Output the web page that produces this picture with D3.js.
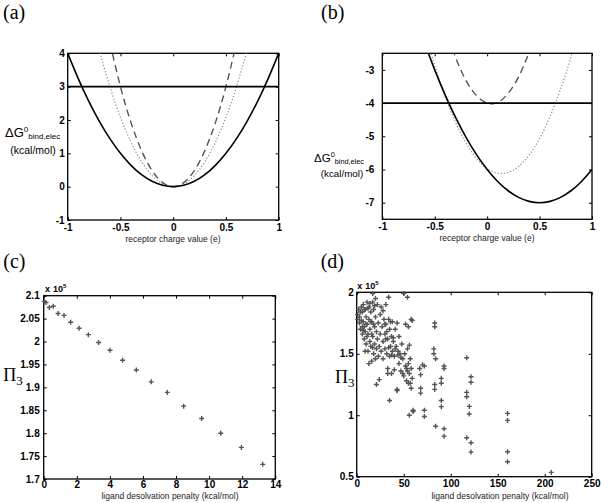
<!DOCTYPE html>
<html>
<head>
<meta charset="utf-8">
<script src="https://cdn.jsdelivr.net/npm/d3@7"></script>
<style>
  body { margin: 0; background: #fff; }
  svg text { font-family: 'Liberation Sans', Arial, sans-serif; }
  svg text.serif { font-family: 'Liberation Serif', 'DejaVu Serif', serif; }
</style>
</head>
<body>
<svg id="fig" width="601" height="503"></svg>
<script>
// ---- data ----
// (a) binding free energy vs receptor charge
const aSolidX = [-1, -0.9, -0.8, -0.7, -0.6, -0.5, -0.4, -0.3, -0.2, -0.1, 0, 0.1, 0.2, 0.3, 0.4, 0.5, 0.6, 0.7, 0.8, 0.9, 1];
const aSolidY = [4, 3.24, 2.56, 1.96, 1.44, 1, 0.64, 0.36, 0.16, 0.04, 0, 0.04, 0.16, 0.36, 0.64, 1, 1.44, 1.96, 2.56, 3.24, 4];
const aDottedX = [-0.72, -0.6, -0.5, -0.4, -0.3, -0.2, -0.1, 0, 0.1, 0.2, 0.3, 0.4, 0.5, 0.6, 0.72];
const aDottedY = [4.3, 3, 2.08, 1.33, 0.75, 0.33, 0.08, 0, 0.08, 0.33, 0.75, 1.33, 2.08, 3, 4.3];
const aDashedX = [-0.6, -0.5, -0.4, -0.3, -0.2, -0.1, 0, 0.1, 0.2, 0.3, 0.4, 0.5, 0.6];
const aDashedY = [4.32, 3, 1.92, 1.08, 0.48, 0.12, 0, 0.12, 0.48, 1.08, 1.92, 3, 4.32];
const aLevel = 3;

// (b)
const bSolidX = [-0.6, -0.5, -0.4, -0.3, -0.2, -0.1, 0, 0.1, 0.2, 0.3, 0.4, 0.5, 0.6, 0.7, 0.8, 0.9, 1];
const bSolidY = [-2.16, -3, -3.76, -4.44, -5.04, -5.56, -6, -6.36, -6.64, -6.84, -6.96, -7, -6.96, -6.84, -6.64, -6.36, -6];
const bDottedX = [-0.6, -0.5, -0.4, -0.3, -0.2, -0.1, 0, 0.1, 0.2, 0.3, 0.4, 0.5, 0.6, 0.7, 0.8, 0.9];
const bDottedY = [-1.77, -2.87, -3.81, -4.59, -5.21, -5.67, -5.97, -6.11, -6.09, -5.91, -5.57, -5.07, -4.4, -3.58, -2.6, -1.46];
const bDashedX = [-0.4, -0.3, -0.2, -0.1, 0, 0.1, 0.2, 0.3, 0.4, 0.5];
const bDashedY = [-1.7, -2.63, -3.33, -3.78, -4, -3.98, -3.71, -3.21, -2.46, -1.48];
const bLevel = -4;

// (c) Pi_3 (x 10^5) vs ligand desolvation penalty
const cPenalty = [0.04, 0.14, 0.34, 0.58, 0.87, 1.23, 1.63, 2.14, 2.7, 3.32, 4.01, 4.77, 5.6, 6.5, 7.47, 8.46, 9.55, 10.7, 11.95, 13.24];
const cPi3 = [2.087, 2.085, 2.0745, 2.077, 2.061, 2.057, 2.042, 2.029, 2.015, 1.998, 1.981, 1.959, 1.938, 1.912, 1.889, 1.859, 1.832, 1.8, 1.769, 1.732];

// (d) [penalty, Pi_3 (x 10^5)]
const dPoints = [
  [1, 1.82], [1, 1.78], [2, 1.86], [3, 1.75], [3, 1.8], [4, 1.7], [4, 1.84], [5, 1.88], [5, 1.77],
  [6, 1.84], [6, 1.66], [6, 1.72], [7, 1.9], [7, 1.76], [7, 1.69], [8, 1.72], [8, 1.62], [8, 1.86],
  [9, 1.86], [9, 1.68], [9, 1.52], [10, 1.8], [10, 1.58], [10, 1.74], [11, 1.92], [11, 1.74], [11, 1.64],
  [12, 1.66], [12, 1.52], [12, 1.87], [13, 1.88], [13, 1.78], [13, 1.42], [14, 1.7], [14, 1.6], [14, 1.91],
  [15, 1.84], [15, 1.56], [15, 1.76], [16, 1.76], [16, 1.44], [16, 1.66], [17, 1.99], [17, 1.92], [17, 1.64],
  [17, 1.55], [18, 1.86], [18, 1.5], [18, 1.74], [19, 1.72], [19, 1.58], [19, 1.89], [20, 1.95], [20, 1.8],
  [20, 1.46], [21, 1.68], [21, 1.54], [21, 1.25], [22, 1.9], [22, 1.62], [23, 1.75], [23, 1.48], [24, 1.56],
  [24, 1.29], [25, 1.82], [25, 1.66], [26, 1.88], [26, 1.52], [27, 1.72], [28, 1.6], [28, 1.46], [28, 1.85],
  [29, 1.78], [30, 1.66], [30, 1.54], [30, 1.74], [31, 1.9], [31, 1.74], [31, 1.62], [32, 1.5], [32, 1.68],
  [33, 1.62], [33, 1.38], [33, 1.34], [34, 1.96], [34, 1.78], [34, 1.55], [35, 1.7], [35, 1.48], [35, 1.12],
  [36, 1.56], [36, 1.76], [37, 1.64], [37, 1.34], [37, 1.49], [38, 1.76], [38, 1.52], [39, 1.6], [39, 1.63],
  [40, 1.48], [40, 1.37], [41, 1.7], [41, 1.54], [42, 1.56], [43, 1.75], [43, 1.21], [43, 1.2], [44, 1.52],
  [44, 1.49], [45, 1.64], [45, 1.42], [46, 1.5], [47, 1.36], [47, 1.47], [48, 1.58], [49, 1.46], [49, 1.34],
  [50, 1.99], [50, 1.32], [51, 1.5], [52, 1.74], [52, 1.4], [53, 1.28], [53, 1.38], [54, 1.96], [54, 1.54],
  [54, 1.36], [55, 1.72], [55, 1.26], [55, 1.42], [56, 1.57], [56, 1.34], [56, 1.0], [57, 1.46], [57, 1.26],
  [58, 1.78], [58, 1.38], [58, 1.22], [59, 1.3], [59, 1.77], [60, 1.04], [60, 1.03],
  [67, 1.38], [68, 1.33], [68, 1.22], [68, 1.18], [70, 1.41], [72, 1.4], [72, 1.04], [72, 0.99],
  [83, 1.75], [83, 1.72], [82, 1.54], [82, 1.5], [84, 1.46], [83, 1.25], [83, 1.21], [84, 0.91],
  [90, 1.3], [90, 1.26], [90, 1.12], [90, 1.07], [93, 1.4], [93, 1.38], [93, 0.89], [93, 0.83],
  [117, 1.468], [121.6, 1.313], [121.6, 1.268], [117, 1.186], [117, 1.15], [119.8, 1.072], [119.8, 1.01],
  [117, 0.817], [121.6, 0.776], [121.6, 0.7],
  [160.5, 1.015], [160.5, 0.958], [160.5, 0.703], [160.5, 0.622], [207, 0.535]
];

const chargeTicks = [-1, -0.5, 0, 0.5, 1];
const aTicks = [-1, 0, 1, 2, 3, 4];
const bTicks = [-7, -6, -5, -4, -3];
const cXTicks = [0, 2, 4, 6, 8, 10, 12, 14];
const cYTicks = [1.7, 1.75, 1.8, 1.85, 1.9, 1.95, 2, 2.05, 2.1];
const dXTicks = [0, 50, 100, 150, 200, 250];
const dYTicks = [0.5, 1, 1.5, 2];

// ---- drawing ----
const svg = d3.select('#fig');
let clipCount = 0;
const fmt = (d) => String(+d.toFixed(2));

function makePanel(box, xDomain, yDomain, xTicks, yTicks, padX, padY) {
  const x = d3.scaleLinear().domain(xDomain).range([box.left, box.right]);
  const y = d3.scaleLinear().domain(yDomain).range([box.bottom, box.top]);
  const id = 'clip' + clipCount++;
  svg
    .append('clipPath')
    .attr('id', id)
    .append('rect')
    .attr('x', box.left)
    .attr('y', box.top)
    .attr('width', box.right - box.left)
    .attr('height', box.bottom - box.top);

  const styleAxis = (g) => {
    g.select('.domain').remove();
    g.attr('font-family', null).attr('font-size', null);
    g.selectAll('line').attr('stroke', '#000');
    g.selectAll('text')
      .attr('font-size', 10)
      .attr('font-weight', 'bold')
      .attr('fill', '#000');
  };

  svg.append('g')
    .attr('transform', `translate(0,${box.bottom})`)
    .call(d3.axisBottom(x).tickValues(xTicks).tickSize(-3).tickPadding(padX).tickFormat(fmt))
    .call(styleAxis);
  svg.append('g')
    .attr('transform', `translate(0,${box.top})`)
    .call(d3.axisTop(x).tickValues(xTicks).tickSize(-3).tickFormat(''))
    .call(styleAxis);
  svg.append('g')
    .attr('transform', `translate(${box.left},0)`)
    .call(d3.axisLeft(y).tickValues(yTicks).tickSize(-3).tickPadding(padY).tickFormat(fmt))
    .call(styleAxis);
  svg.append('g')
    .attr('transform', `translate(${box.right},0)`)
    .call(d3.axisRight(y).tickValues(yTicks).tickSize(-3).tickFormat(''))
    .call(styleAxis);

  svg
    .append('rect')
    .attr('x', box.left)
    .attr('y', box.top)
    .attr('width', box.right - box.left)
    .attr('height', box.bottom - box.top)
    .attr('fill', 'none')
    .attr('stroke', '#000')
    .attr('stroke-width', 1.3);

  return { x, y, clip: `url(#${id})`, box };
}

function drawCurve(p, xs, ys, color, width, dash) {
  const line = d3
    .line()
    .x((d) => p.x(d[0]))
    .y((d) => p.y(d[1]))
    .curve(d3.curveNatural);
  svg
    .append('path')
    .datum(d3.zip(xs, ys))
    .attr('clip-path', p.clip)
    .attr('fill', 'none')
    .attr('stroke', color)
    .attr('stroke-width', width)
    .attr('stroke-dasharray', dash)
    .attr('d', line);
}

function drawLevel(p, level) {
  svg
    .append('line')
    .attr('x1', p.box.left)
    .attr('x2', p.box.right)
    .attr('y1', p.y(level))
    .attr('y2', p.y(level))
    .attr('stroke', '#000')
    .attr('stroke-width', 1.6);
}

function drawCrosses(p, pts) {
  const r = 2.5;
  svg
    .append('g')
    .selectAll('path')
    .data(pts)
    .enter()
    .append('path')
    .attr('d', (d) => `M${p.x(d[0]) - r},${p.y(d[1])}h${2 * r}M${p.x(d[0])},${p.y(d[1]) - r}v${2 * r}`)
    .attr('stroke', '#555')
    .attr('stroke-width', 1.4);
}

function addText(x, y, txt, size, opts = {}) {
  return svg
    .append('text')
    .attr('class', opts.serif ? 'serif' : null)
    .attr('x', x)
    .attr('y', y)
    .attr('font-size', size)
    .attr('text-anchor', opts.anchor || 'start')
    .attr('font-weight', opts.weight || null)
    .attr('fill', opts.fill || '#000')
    .text(txt);
}

function deltaGLabel(x, y, big, small) {
  const t = svg.append('text').attr('x', x).attr('y', y).attr('fill', '#000');
  t.append('tspan').attr('font-size', big).text('ΔG');
  t.append('tspan').attr('font-size', small).attr('dy', -5).text('0');
  t.append('tspan').attr('font-size', small).attr('dy', 7).text('bind,elec');
}

function piLabel(x, y) {
  const t = svg
    .append('text')
    .attr('class', 'serif')
    .attr('x', x)
    .attr('y', y)
    .attr('fill', '#000');
  t.append('tspan').attr('font-size', 18).text('Π');
  t.append('tspan').attr('font-size', 13).attr('dy', 4).text('3');
}

function expLabel(x, y) {
  addText(x, y, 'x', 9, { weight: 'bold' });
  const t = addText(x + 8, y, '10', 9, { weight: 'bold' });
  t.append('tspan').attr('font-size', 6).attr('dy', -4).text('5');
}

// (a)
const pa = makePanel({ left: 67.7, right: 278.7, top: 53.3, bottom: 220 }, [-1, 1], [-1, 4], chargeTicks, aTicks, 4, 3);
drawCurve(pa, aDottedX, aDottedY, '#8a8a8a', 1.2, '1.2,2');
drawCurve(pa, aDashedX, aDashedY, '#555', 1.4, '7,4.5');
drawCurve(pa, aSolidX, aSolidY, '#000', 1.6, null);
drawLevel(pa, aLevel);
addText(3, 18.5, '(a)', 20, { serif: true });
deltaGLabel(5, 137, 13, 8);
addText(33, 154, '(kcal/mol)', 10.5, { anchor: 'middle' });
addText(173, 242, 'receptor charge value (e)', 8.5, { anchor: 'middle', fill: '#222' });

// (b)
const pb = makePanel({ left: 382.3, right: 592, top: 53.3, bottom: 219.3 }, [-1, 1], [-7.5, -2.5], chargeTicks, bTicks, 4, 8);
drawCurve(pb, bDottedX, bDottedY, '#8a8a8a', 1.2, '1.2,2');
drawCurve(pb, bDashedX, bDashedY, '#555', 1.4, '7,4.5');
drawCurve(pb, bSolidX, bSolidY, '#000', 1.6, null);
drawLevel(pb, bLevel);
addText(321, 18.5, '(b)', 20, { serif: true });
deltaGLabel(314, 162, 11.5, 7.3);
addText(342, 177, '(kcal/mol)', 9.8, { anchor: 'middle' });
addText(487, 241, 'receptor charge value (e)', 8.5, { anchor: 'middle', fill: '#222' });

// (c)
const pc = makePanel({ left: 43.7, right: 275.3, top: 295.7, bottom: 479 }, [0, 14], [1.7, 2.1], cXTicks, cYTicks, 2, 4);
drawCrosses(pc, d3.zip(cPenalty, cPi3));
addText(3.3, 268, '(c)', 20, { serif: true });
piLabel(3.3, 381);
expLabel(45, 292);
addText(170, 499, 'ligand desolvation penalty (kcal/mol)', 8.5, { anchor: 'middle', fill: '#222' });

// (d)
const pd = makePanel({ left: 356.7, right: 591.7, top: 292.3, bottom: 476.7 }, [0, 250], [0.5, 2], dXTicks, dYTicks, 3, 3);
drawCrosses(pd, dPoints);
addText(320.7, 268, '(d)', 20, { serif: true });
piLabel(335, 383);
expLabel(357.3, 288.5);
addText(500, 499, 'ligand desolvation penalty (kcal/mol)', 8.5, { anchor: 'middle', fill: '#222' });
</script>
</body>
</html>
